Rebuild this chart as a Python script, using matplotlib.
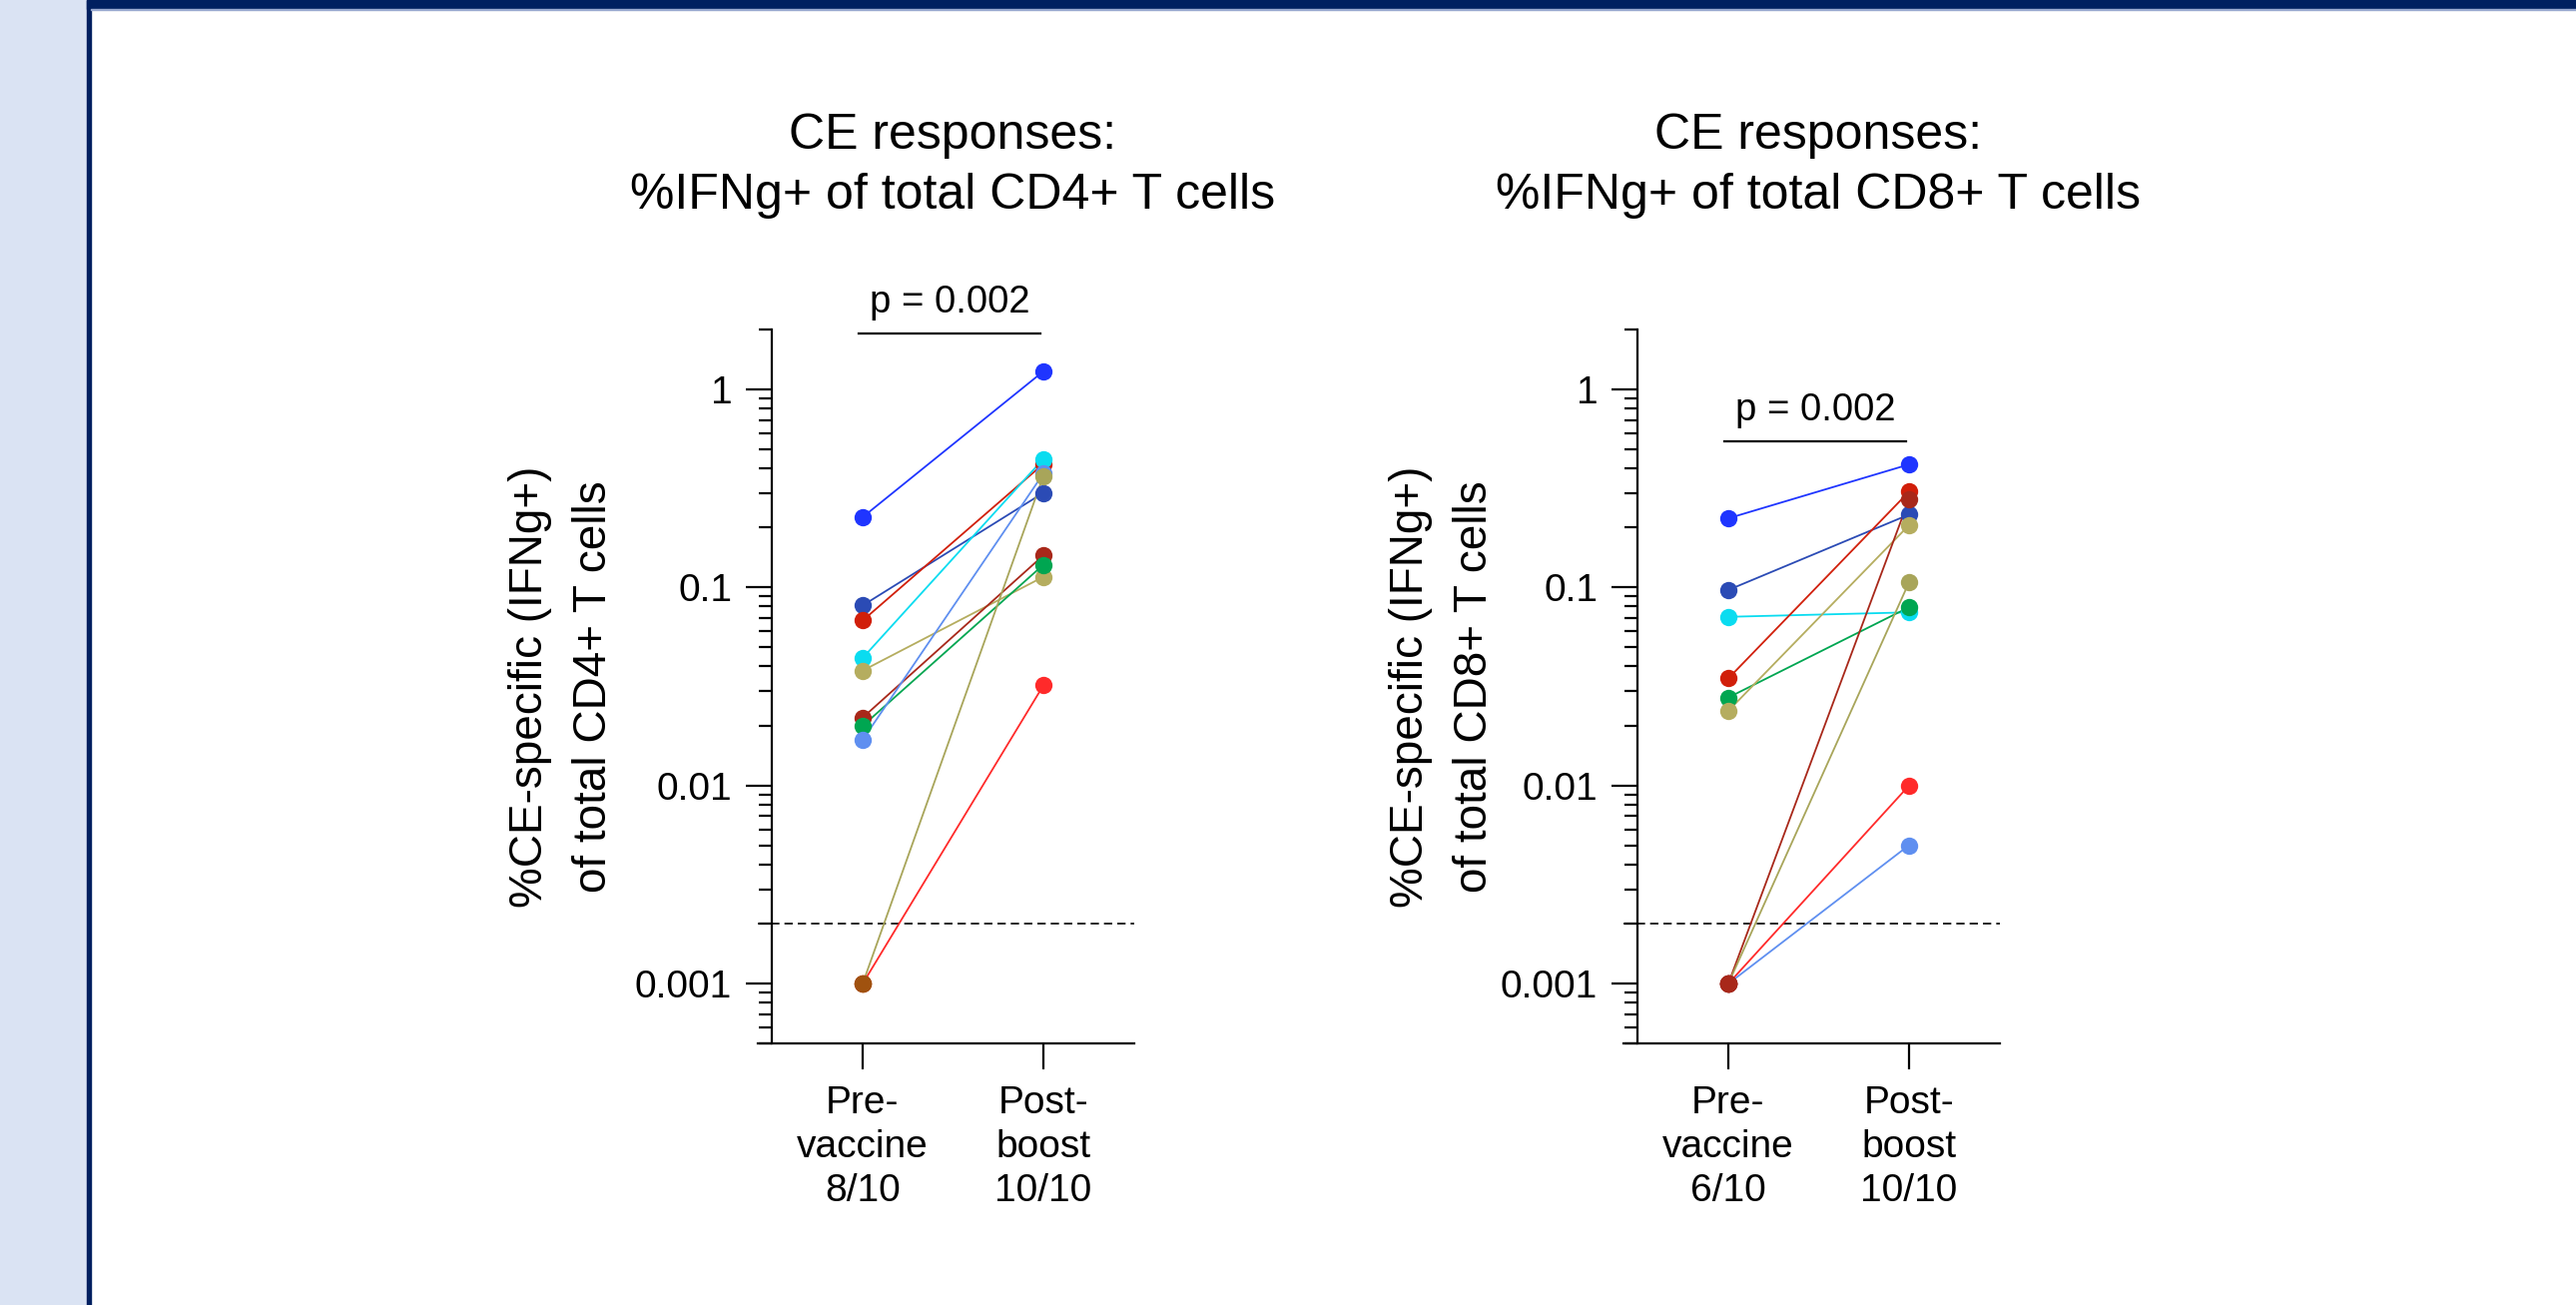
import matplotlib.pyplot as plt
import matplotlib.ticker as mticker
from matplotlib.patches import Rectangle

plt.rcParams['font.family'] = ['Liberation Sans', 'DejaVu Sans']

# ---- data ----
timepoints = [0, 1]
cd4_ticklabels = ['Pre-\nvaccine\n8/10', 'Post-\nboost\n10/10']
cd8_ticklabels = ['Pre-\nvaccine\n6/10', 'Post-\nboost\n10/10']

cd4_pre = [0.226, 0.081, 0.068, 0.044, 0.038, 0.022, 0.020, 0.017, 0.001, 0.001]
cd4_post = [1.23, 0.30, 0.42, 0.445, 0.113, 0.145, 0.13, 0.375, 0.365, 0.032]
cd4_colors = ['#1f35ff', '#2b4bb5', '#d11f0a', '#0adcf0', '#b5ad5f',
              '#a8281a', '#00a651', '#5f8ff0', '#a8a55a', '#ff2a2a']

cd8_pre = [0.223, 0.097, 0.071, 0.0347, 0.0278, 0.0238, 0.001, 0.001, 0.001, 0.001]
cd8_post = [0.417, 0.233, 0.0748, 0.304, 0.0794, 0.206, 0.278, 0.106, 0.010, 0.005]
cd8_colors = ['#1f35ff', '#2b4bb5', '#0adcf0', '#d11f0a', '#00a651',
              '#b5ad5f', '#a8281a', '#a8a55a', '#ff2a2a', '#5f8ff0']

floor_value = 0.001
detection_limit = 0.002
p_label = 'p = 0.002'

W, H = 2580, 1307
fig = plt.figure(figsize=(W / 100, H / 100), dpi=100)

# slide decoration
fig.patches.append(Rectangle((0, 0), 87 / W, 1, transform=fig.transFigure,
                             color='#dae3f3', zorder=0))
fig.patches.append(Rectangle((87 / W, 0), 4 / W, 1, transform=fig.transFigure,
                             color='#002060', zorder=1))
fig.patches.append(Rectangle((87 / W, 1 - 9 / H), 1, 9 / H, transform=fig.transFigure,
                             color='#002060', zorder=1))
fig.patches.append(Rectangle((91 / W, 1 - 10 / H), 1, 1 / H, transform=fig.transFigure,
                             color='#9aaad0', zorder=1))


def panel(left_px, pre, post, colors, floor_color, ticklabels, title, ylab,
          bar_y, text_y, ylab_x):
    ax = fig.add_axes([left_px / W, (H - 1045) / H, 376.5 / W, 715 / H])
    for a, b, c in zip(pre, post, colors):
        ax.plot(timepoints, [a, b], color=c, lw=1.3, zorder=2)
        ax.plot(timepoints, [a, b], 'o', color=c, ms=12.5, mew=0, zorder=3)
    for a in pre:
        if a == floor_value:
            ax.plot(timepoints[0], a, 'o', color=floor_color, ms=12.5, mew=0, zorder=4)

    ax.set_yscale('log')
    ax.set_ylim(5e-4, 2)
    ax.set_xlim(-0.58, 1.5)
    ax.axhline(detection_limit, color='black', lw=1.2, dashes=(5, 3), zorder=1)

    for s in ['top', 'right']:
        ax.spines[s].set_visible(False)
    ax.spines['left'].set_position(('data', -0.5))
    for s in ['left', 'bottom']:
        ax.spines[s].set_linewidth(1.6)

    ax.yaxis.set_major_locator(mticker.FixedLocator([0.001, 0.01, 0.1, 1]))
    ax.yaxis.set_major_formatter(mticker.FixedFormatter(['0.001', '0.01', '0.1', '1']))
    ax.yaxis.set_minor_locator(mticker.LogLocator(base=10, subs=range(2, 10)))
    ax.yaxis.set_minor_formatter(mticker.NullFormatter())
    ax.tick_params(axis='y', which='major', length=19, width=1.6, pad=10, labelsize=28)
    ax.tick_params(axis='y', which='minor', length=9.5, width=1.6)

    ax.set_xticks(timepoints)
    ax.set_xticklabels(ticklabels)
    ax.tick_params(axis='x', length=19, width=1.6, pad=11, labelsize=28)
    for lbl in ax.get_xticklabels():
        lbl.set_linespacing(1.3)

    ax.text(0.5, 1.229, title, transform=ax.get_xaxis_transform(), ha='center',
            va='center', fontsize=36, linespacing=1.4)
    ax.text(ylab_x, 0.5, ylab, transform=ax.transAxes, rotation=90, ha='center',
            va='center', fontsize=33, linespacing=1.6)

    ax.plot([-0.02, 0.985], [bar_y, bar_y], color='black', lw=1.6, clip_on=False)
    ax.text(0.48, text_y, p_label, ha='center', va='center', fontsize=27.5)
    return ax


panel(759, cd4_pre, cd4_post, cd4_colors, '#a0520f', cd4_ticklabels,
      'CE responses:\n%IFNg+ of total CD4+ T cells',
      '%CE-specific (IFNg+)\nof total CD4+ T cells', 1.90, 2.72, -0.52)
panel(1626, cd8_pre, cd8_post, cd8_colors, '#a8281a', cd8_ticklabels,
      'CE responses:\n%IFNg+ of total CD8+ T cells',
      '%CE-specific (IFNg+)\nof total CD8+ T cells', 0.544, 0.78, -0.48)

fig.savefig('out.png', dpi=100)
